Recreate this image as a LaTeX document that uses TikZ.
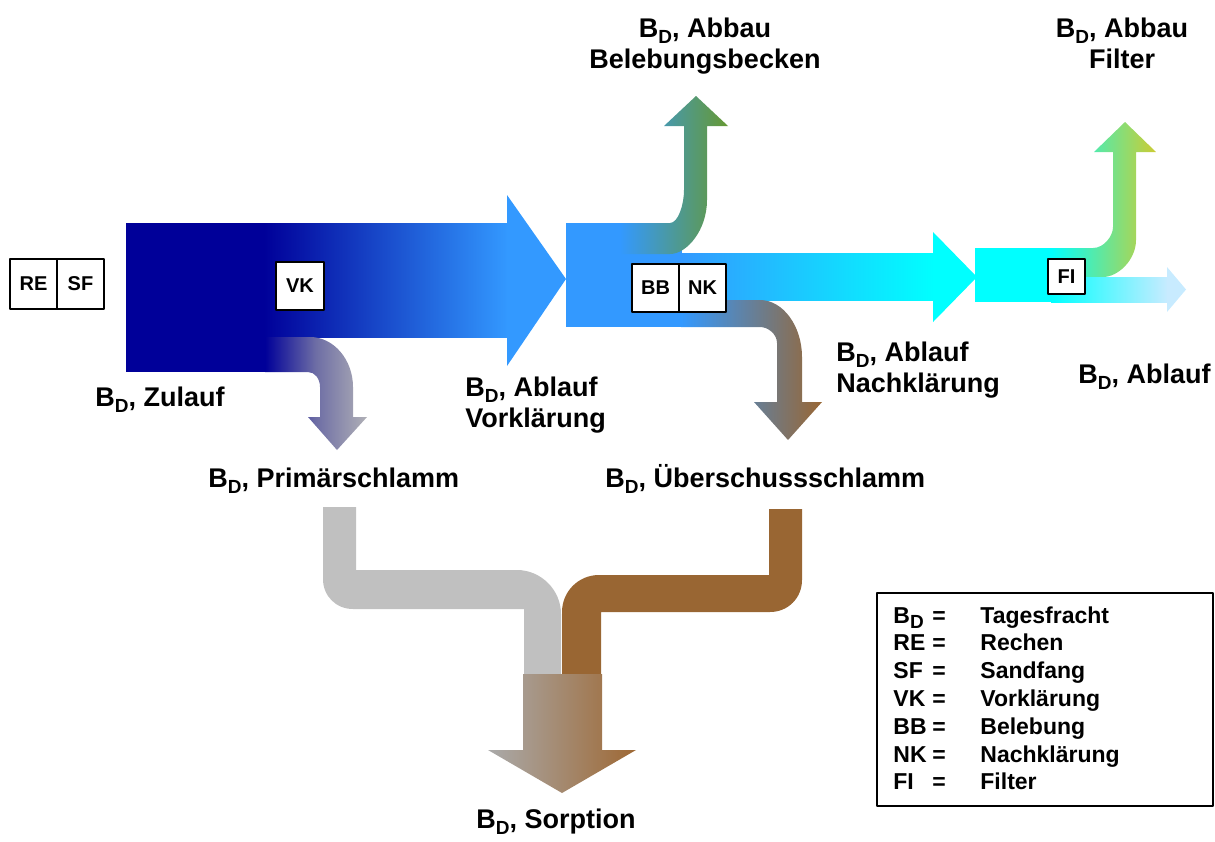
\documentclass[tikz,border=0pt]{standalone}
\usepackage{fontspec}
\setmainfont{Liberation Sans}
\usetikzlibrary{positioning}

\definecolor{navy}{RGB}{0,0,153}
\definecolor{skyblue}{RGB}{51,153,255}
\definecolor{aqua}{RGB}{0,255,255}
\definecolor{slate}{RGB}{176,176,182}
\definecolor{dusk}{RGB}{110,110,165}
\definecolor{leaf}{RGB}{102,153,51}
\definecolor{olive}{RGB}{204,204,51}
\definecolor{paleblue}{RGB}{200,235,255}
\definecolor{sludge}{RGB}{192,192,192}
\definecolor{mud}{RGB}{153,102,51}
\definecolor{sorpgray}{RGB}{170,170,170}
\definecolor{sorpbrown}{RGB}{158,104,52}

\newcommand{\BD}{B\raisebox{-0.45ex}{\fontsize{9.5}{9.5}\selectfont D}}

\tikzset{
  unit/.style={draw, fill=white, line width=1.2pt, inner sep=0pt, outer sep=0pt, font=\fontsize{10}{11}\selectfont\bfseries},
  lbl/.style={inner sep=0pt, font=\fontsize{13.5}{15.5}\selectfont\bfseries},
  legtext/.style={inner sep=0pt, anchor=base west, font=\fontsize{11.5}{13}\selectfont\bfseries}
}

\begin{document}
\begin{tikzpicture}[x=0.5pt, y=-0.5pt, line join=round]
\useasboundingbox (0,0) rectangle (1215,841);

% Zulauf und Vorklaerung
\fill[navy] (126,223) rectangle (265,372);
\shade[left color=navy, right color=skyblue] (264,223) rectangle (508,337);
\fill[skyblue] (507,195) -- (566,279) -- (507,366) -- cycle;
\shade[left color=navy, right color=slate, middle color=dusk] (265,337) -- (310,337) .. controls (334,337) and (353,360) .. (353,387)
  -- (353,417) -- (367,417) -- (337,450) -- (308,417) -- (320,417) -- (320,387)
  .. controls (320,379) and (315,372) .. (308,372) -- (265,372) -- cycle;

% Belebung und Nachklaerung
\fill[skyblue] (566,223) rectangle (682,327);
\shade[left color=skyblue, right color=leaf] (620,223) -- (670,223) .. controls (678,223) and (684,205) .. (684,190)
  -- (684,126) -- (664,126) -- (696,96) -- (728,126) -- (707,126) -- (707,200)
  .. controls (707,230) and (687,254) .. (670,254) -- (620,254) -- cycle;
\shade[left color=skyblue, right color=aqua] (681,253) rectangle (934,300);
\fill[aqua] (933,232) -- (977,277) -- (933,322) -- cycle;
\shade[left color=skyblue, right color=mud] (681,300) -- (760,300) .. controls (783,300) and (802,326) .. (802,357)
  -- (802,402) -- (822,402) -- (788,440) -- (754,402) -- (777,402) -- (777,343)
  .. controls (777,334) and (768,327) .. (760,327) -- (681,327) -- cycle;

% Filter
\fill[aqua] (975,248) rectangle (1052,302);
\shade[left color=aqua, right color=olive] (1051,248) -- (1093,248) .. controls (1104,248) and (1113,236) .. (1113,227)
  -- (1113,152) -- (1094,152) -- (1125,122) -- (1156,152) -- (1136,152) -- (1136,240)
  .. controls (1136,260) and (1118,277) .. (1103,277) -- (1051,277) -- cycle;
\shade[left color=aqua, right color=paleblue] (1051,277) rectangle (1168,302);
\fill[paleblue] (1167,267) -- (1186,289.5) -- (1167,312) -- cycle;

% Schlamm
\fill[sludge] (323,507) -- (356,507) -- (356,570) -- (517,570) .. controls (541,570) and (561,590) .. (561,614)
  -- (561,675) -- (524,675) -- (524,609) -- (353,609) .. controls (336,609) and (323,596) .. (323,579) -- cycle;
\fill[mud] (769,509) -- (802,509) -- (802,580) .. controls (802,598) and (788,612) .. (770,612)
  -- (601,612) -- (601,675) -- (562,675) -- (562,612) .. controls (562,592) and (578,575) .. (599,575)
  -- (769,575) -- cycle;
\shade[left color=sorpgray, right color=sorpbrown] (523,674) -- (602,674) -- (602,750) -- (636,750)
  -- (562,793) -- (488,750) -- (523,750) -- cycle;

% Anlagenteile
\node[unit, minimum width=23.5pt, minimum height=25pt] (RE) at (33.5,284) {RE};
\node[unit, minimum width=23.5pt, minimum height=25pt, right=0pt of RE] (SF) {SF};
\node[unit, minimum width=24pt, minimum height=24pt] (VK) at (300,286) {VK};
\node[unit, minimum width=23.5pt, minimum height=24pt] (BB) at (655.5,288) {BB};
\node[unit, minimum width=23.5pt, minimum height=24pt, right=0pt of BB] (NK) {NK};
\node[unit, minimum width=18.5pt, minimum height=17.5pt] (FI) at (1066.5,276.5) {FI};

% Beschriftungen
\node[lbl, anchor=base west] (zulauf) at (95,406) {\BD, Zulauf};
\node[lbl, anchor=base west] (primaer) at (208,487) {\BD, Primärschlamm};
\node[lbl, anchor=base west, align=left] (vkout) at (465,427) {\BD, Ablauf\\Vorklärung};
\node[lbl, anchor=base, align=center] (bbabbau) at (705,68) {\BD, Abbau\\Belebungsbecken};
\node[lbl, anchor=base, align=center] (fiabbau) at (1122,68) {\BD, Abbau\\Filter};
\node[lbl, anchor=base west, align=left] (nkout) at (836,392) {\BD, Ablauf\\Nachklärung};
\node[lbl, anchor=base west] (fiout) at (1078,383) {\BD, Ablauf};
\node[lbl, anchor=base west] (ueber) at (605,487) {\BD, Überschussschlamm};
\node[lbl, anchor=base west] (sorp) at (476,828) {\BD, Sorption};

% Legende
\draw[line width=1pt] (877,593) rectangle (1213,806);
\foreach \ab/\desc [count=\i from 0] in {\BD/Tagesfracht, RE/Rechen, SF/Sandfang,
    VK/Vorklärung, BB/Belebung, NK/Nachklärung, FI/Filter}{
  \node[legtext] (ab\i) at (893,623+27.8*\i) {\ab};
  \node[legtext] (eq\i) at (932,623+27.8*\i) {=};
  \node[legtext] (desc\i) at (980,623+27.8*\i) {\desc};
}
\end{tikzpicture}
\end{document}
